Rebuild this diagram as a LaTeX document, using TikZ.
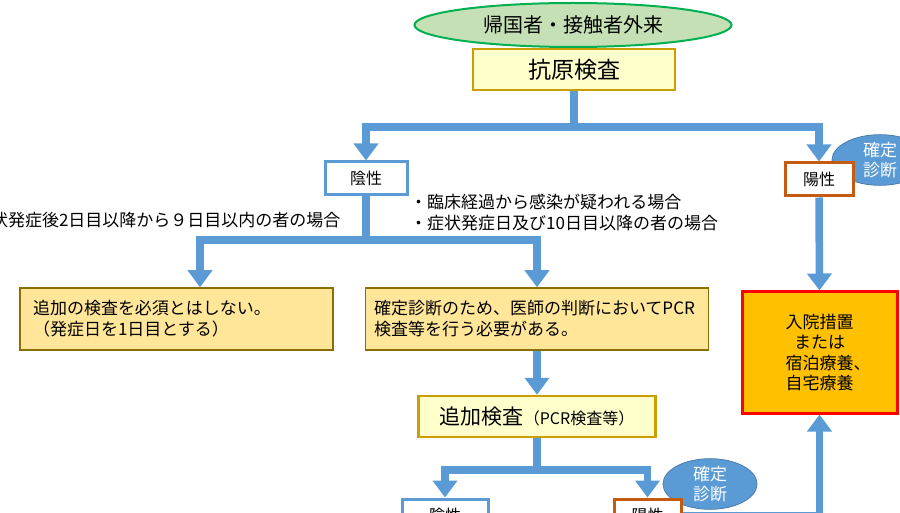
\documentclass[tikz,border=0pt]{standalone}
\usepackage{fontspec}
\setmainfont{Noto Sans CJK JP}
\usetikzlibrary{arrows.meta,shapes.geometric}
\definecolor{flow}{HTML}{5B9BD5}
\definecolor{visitfill}{HTML}{C5E0B4}
\definecolor{visitline}{HTML}{00B050}
\definecolor{testfill}{HTML}{FFFFCC}
\definecolor{testline}{HTML}{C9A000}
\definecolor{notefill}{HTML}{FFE699}
\definecolor{noteline}{HTML}{8B6F00}
\definecolor{posline}{HTML}{C55A11}
\definecolor{carefill}{HTML}{FFC000}
\definecolor{careline}{HTML}{FF0000}

\tikzset{
  flowline/.style={draw=flow,line width=7.5pt},
  flowarrow/.style={flowline,-{Triangle[width=24pt,length=17pt]}},
  bodytext/.style={font=\fontsize{17}{21}\selectfont},
  result/.style={draw,fill=white,line width=3pt,inner sep=0pt,
    font=\fontsize{16}{20}\selectfont},
  testbox/.style={draw=testline,fill=testfill,line width=2.5pt,inner sep=0pt},
  notebox/.style={draw=noteline,fill=notefill,line width=1.5pt,inner sep=0pt,
    bodytext,align=left},
  diagnosis/.style={ellipse,draw=flow!80!black,line width=0.8pt,fill=flow,
    text=white,inner sep=0pt,align=center,font=\fontsize{17}{20}\selectfont}
}

\begin{document}
\begin{tikzpicture}[x=1pt,y=-1pt]
  \path[use as bounding box] (0,0) rectangle (900,513);
  \clip (0,0) rectangle (900,513);

  % first visit and antigen test
  \node[ellipse,draw=visitline,fill=visitfill,line width=2pt,inner sep=0pt,
    minimum width=317pt,minimum height=44pt,font=\fontsize{20}{22}\selectfont]
    (visit) at (573,25) {帰国者・接触者外来};
  \node[testbox,minimum width=202pt,minimum height=41pt,
    font=\fontsize{23}{26}\selectfont] (antigen) at (574,69.5) {抗原検査};

  % results of the antigen test
  \node[diagnosis,minimum width=96pt,minimum height=46pt] (confirm1) at (880,160) {確定\\診断};
  \node[result,draw=flow,minimum width=82pt,minimum height=33pt] (neg1) at (366,178.5) {陰性};
  \node[result,draw=posline,minimum width=68pt,minimum height=33pt] (pos1) at (819,179.5) {陽性};

  \node[bodytext,anchor=east] (cond1) at (344,220) {・症状発症後2日目以降から９日目以内の者の場合};
  \node[bodytext,anchor=north west,align=left,inner sep=0pt] (cond2) at (410,194)
    {・臨床経過から感染が疑われる場合\\・症状発症日及び10日目以降の者の場合};

  \node[notebox,minimum width=313pt,minimum height=62pt,text width=287pt] (note1) at (176.5,319)
    {追加の検査を必須とはしない。\\（発症日を1日目とする）};
  \node[notebox,minimum width=343pt,minimum height=62pt,text width=326pt] (note2) at (537,319)
    {確定診断のため、医師の判断においてPCR\\検査等を行う必要がある。};

  \node[testbox,minimum width=237pt,minimum height=41pt] (pcr) at (537,416.5)
    {\fontsize{21}{24}\selectfont 追加検査\fontsize{16}{20}\selectfont（PCR検査等）};

  % results of the additional test
  \node[diagnosis,minimum width=94pt,minimum height=45pt] (confirm2) at (710,484) {確定\\診断};
  \node[result,draw=flow,minimum width=86pt,minimum height=33pt] (neg2) at (445,515.5) {陰性};
  \node[result,draw=posline,minimum width=67pt,minimum height=33pt] (pos2) at (647.5,515.5) {陽性};

  \node[draw=careline,fill=carefill,line width=3pt,minimum width=155pt,minimum height=121pt,
    font=\fontsize{17}{20.5}\selectfont,align=center,inner sep=0pt] (care) at (819.5,352.5)
    {入院措置\\または\\宿泊療養\rlap{、}\\自宅療養};

  % connectors
  \coordinate (split1) at (574,127);
  \coordinate (split2) at (366,240);
  \coordinate (split3) at (537,470);
  \draw[flowline] (antigen.south) -- (split1);
  \draw[flowarrow] (split1) -| (neg1.north);
  \draw[flowarrow] (split1) -| (pos1.north);
  \draw[flowline] (neg1.south) -- (split2);
  \draw[flowarrow] (split2) -| ([xshift=23.5pt]note1.north);
  \draw[flowarrow] (split2) -| (note2.north);
  \draw[flowarrow] (note2.south) -- (pcr.north);
  \draw[flowline] (pcr.south) -- (split3);
  \draw[flowarrow] (split3) -| (neg2.north);
  \draw[flowarrow] (split3) -| (pos2.north);
  \draw[flowarrow] (pos1.south) -- (care.north);
  \draw[flowarrow] (pos2.east) -| (care.south);
\end{tikzpicture}
\end{document}
